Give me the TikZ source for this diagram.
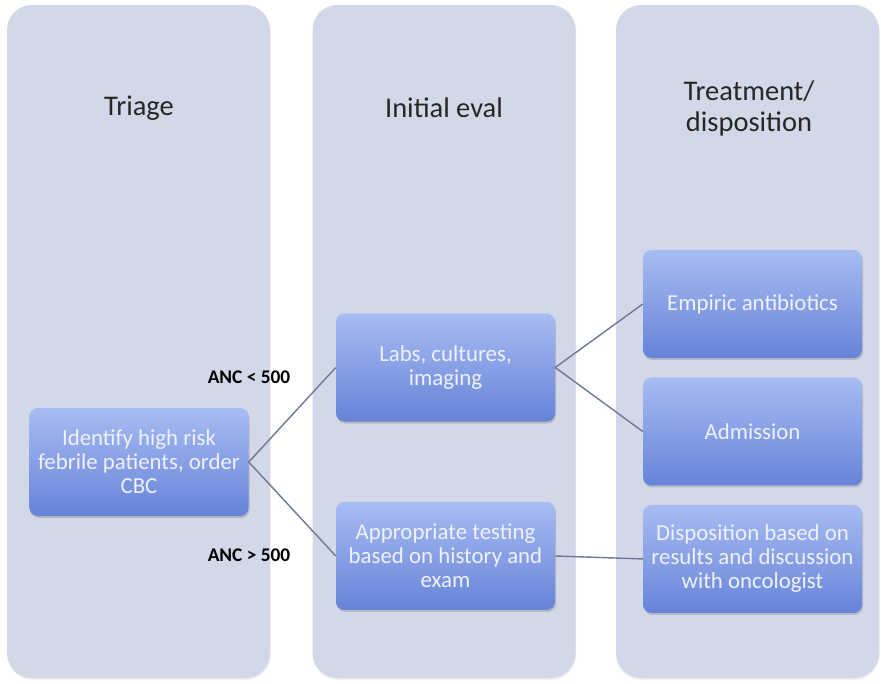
\documentclass[tikz,border=0pt]{standalone}
\usepackage{fontspec}
\setmainfont{Carlito}
\usepackage{xcolor}
\usepackage{tikz}
\usetikzlibrary{positioning, shadows}
\definecolor{panelbg}{HTML}{D3D8E8}
\definecolor{boxtop}{HTML}{A8BCF3}
\definecolor{boxbot}{HTML}{6683D8}
\definecolor{linkgray}{HTML}{6C7896}
\definecolor{boxtext}{HTML}{F0F2FB}
\tikzstyle{panel} = [rectangle, rounded corners=0.75cm, minimum width=7.89cm, minimum height=20.19cm, fill=panelbg, drop shadow={opacity=0.15, shadow xshift=0.02cm, shadow yshift=-0.05cm}]
\tikzstyle{head} = [align=center, text=black!85, font=\fontsize{24.3}{26.5}\selectfont]
\tikzstyle{stage} = [rectangle, rounded corners=0.25cm, minimum width=6.57cm, minimum height=3.24cm, top color=boxtop, bottom color=boxbot, text=boxtext, align=center, font=\fontsize{19.5}{20.5}\selectfont, drop shadow={opacity=0.35, shadow xshift=0.03cm, shadow yshift=-0.06cm}]
\tikzstyle{anc} = [font=\bfseries\fontsize{16.5}{19}\selectfont]
\tikzstyle{link} = [draw=linkgray, line width=1.2pt]

\begin{document}
\begin{tikzpicture}[x=0.03cm, y=-0.03cm]
  \useasboundingbox (0,0) rectangle (881,684);
  % Columns
  \node[panel] (triage) at (138.5,341.5) {};
  \node[panel] (initial) at (444,341.5) {};
  \node[panel] (treat) at (747.5,341.5) {};
  \node[head] (triagehd) at (139,108) {Triage};
  \node[head] (initialhd) at (444,108) {Initial eval};
  \node[head] (treathd) at (749,108) {Treatment/\\disposition};
  % Stages
  \node[stage] (identify) at (139,462) {Identify high risk\\febrile patients, order\\CBC};
  \node[stage] (labs) at (445.5,367.5) {Labs, cultures,\\imaging};
  \node[stage, below=2.4cm of labs] (testing) {Appropriate testing\\based on history and\\exam};
  \node[stage] (empiric) at (752.5,304) {Empiric antibiotics};
  \node[stage, below=0.57cm of empiric] (admit) {Admission};
  \node[stage, below=0.57cm of admit] (dispo) {Disposition based on\\results and discussion\\with oncologist};
  % Branch labels
  \node[anc] (low) at (249,377) {ANC < 500};
  \node[anc] (high) at (249,555) {ANC > 500};
  % Links
  \draw[link] (identify.east) -- (labs.west);
  \draw[link] (identify.east) -- (testing.west);
  \draw[link] (labs.east) -- (empiric.west);
  \draw[link] (labs.east) -- (admit.west);
  \draw[link] (testing.east) -- (dispo.west);
\end{tikzpicture}
\end{document}
